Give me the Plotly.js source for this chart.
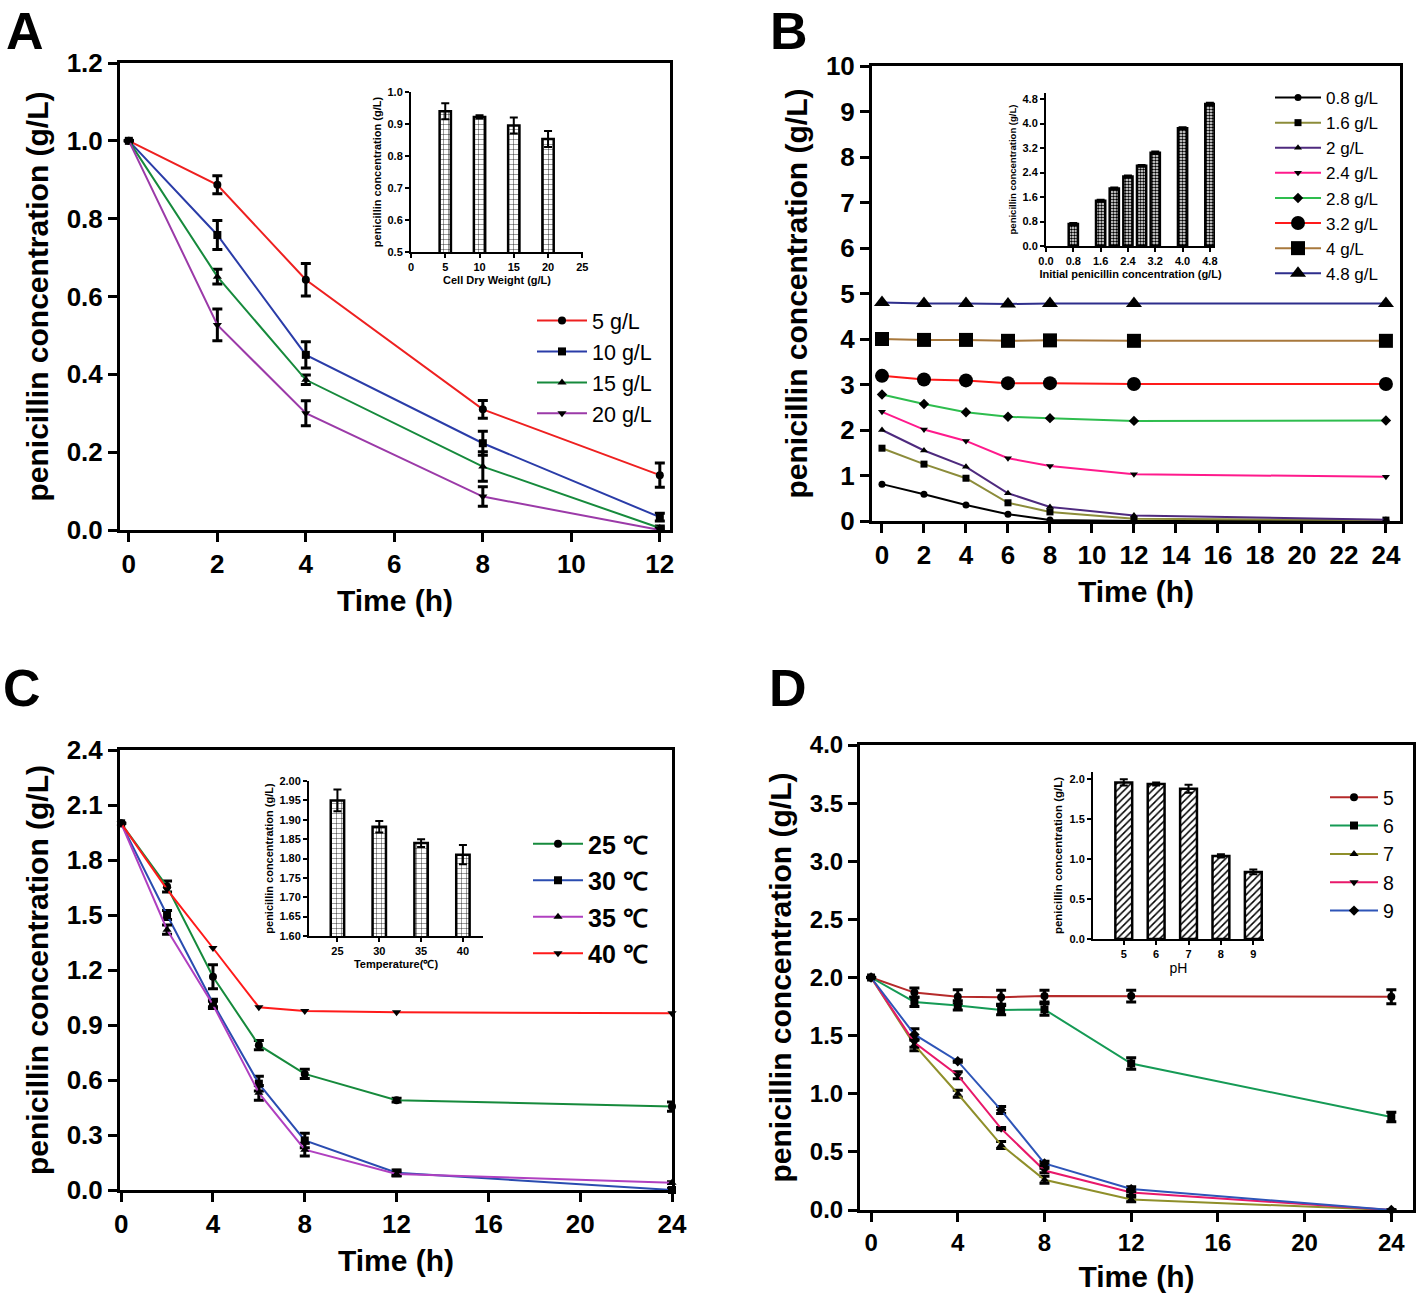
<!DOCTYPE html>
<html><head><meta charset="utf-8">
<script src="https://cdn.plot.ly/plotly-3.0.1.min.js"></script>
<style>html,body{margin:0;padding:0;background:#fff}#chart{width:1418px;height:1298px}</style>
</head><body><div id="chart"></div><script>
// ---------- Panel A ----------
const timeA = [0, 2, 4, 8, 12];
const a_5 = [1.0, 0.887, 0.643, 0.31, 0.141];
const a_5_err = [0, 0.023, 0.042, 0.023, 0.031];
const a_10 = [1.0, 0.758, 0.45, 0.223, 0.033];
const a_10_err = [0, 0.037, 0.034, 0.031, 0.01];
const a_15 = [1.0, 0.651, 0.386, 0.163, 0.005];
const a_15_err = [0, 0.019, 0.012, 0.038, 0.005];
const a_20 = [1.0, 0.527, 0.30, 0.086, 0.0];
const a_20_err = [0, 0.041, 0.032, 0.025, 0.005];
const insetA_x = [5, 10, 15, 20];
const insetA_y = [0.94, 0.922, 0.895, 0.853];
const insetA_err = [0.025, 0.005, 0.025, 0.025];

// ---------- Panel B ----------
const timeB = [0, 2, 4, 6, 8, 12, 24];
const b_08 = [0.81, 0.59, 0.35, 0.15, 0.02, 0.0, 0.0];
const b_16 = [1.6, 1.25, 0.94, 0.40, 0.20, 0.05, 0.02];
const b_2 = [2.0, 1.55, 1.19, 0.61, 0.31, 0.12, 0.03];
const b_24 = [2.40, 2.01, 1.76, 1.38, 1.21, 1.03, 0.97];
const b_28 = [2.78, 2.57, 2.39, 2.29, 2.26, 2.20, 2.21];
const b_32 = [3.19, 3.11, 3.09, 3.03, 3.03, 3.01, 3.01];
const b_4 = [4.0, 3.98, 3.98, 3.96, 3.97, 3.96, 3.96];
const b_48 = [4.80, 4.78, 4.78, 4.77, 4.78, 4.78, 4.78];
const insetB_x = [0.8, 1.6, 2.0, 2.4, 2.8, 3.2, 4.0, 4.8];
const insetB_y = [0.72, 1.48, 1.88, 2.27, 2.62, 3.05, 3.85, 4.64];
const insetB_err = [0.03, 0.03, 0.03, 0.03, 0.03, 0.04, 0.03, 0.04];

// ---------- Panel C ----------
const timeC = [0, 2, 4, 6, 8, 12, 24];
const c_25 = [2.0, 1.655, 1.163, 0.79, 0.633, 0.49, 0.455];
const c_25_err = [0, 0.03, 0.065, 0.025, 0.025, 0.01, 0.025];
const c_30 = [2.0, 1.50, 1.02, 0.58, 0.27, 0.094, 0.0];
const c_30_err = [0, 0.025, 0.02, 0.04, 0.04, 0.015, 0.01];
const c_35 = [2.0, 1.42, 1.01, 0.53, 0.22, 0.087, 0.04];
const c_35_err = [0, 0.025, 0.02, 0.04, 0.035, 0.01, 0.005];
const c_40 = [2.0, 1.64, 1.32, 0.997, 0.976, 0.969, 0.964];
const insetC_x = [25, 30, 35, 40];
const insetC_y = [1.95, 1.882, 1.84, 1.81];
const insetC_err = [0.028, 0.015, 0.01, 0.025];

// ---------- Panel D ----------
const timeD = [0, 2, 4, 6, 8, 12, 24];
const d_5 = [2.0, 1.87, 1.835, 1.83, 1.84, 1.84, 1.835];
const d_5_err = [0, 0.04, 0.06, 0.06, 0.05, 0.05, 0.06];
const d_6 = [2.0, 1.79, 1.76, 1.72, 1.725, 1.26, 0.80];
const d_6_err = [0, 0.04, 0.04, 0.04, 0.05, 0.05, 0.04];
const d_7 = [2.0, 1.42, 1.0, 0.56, 0.26, 0.09, 0.0];
const d_7_err = [0, 0.05, 0.03, 0.03, 0.03, 0.02, 0.0];
const d_8 = [2.0, 1.44, 1.16, 0.70, 0.34, 0.15, 0.0];
const d_8_err = [0, 0.04, 0.03, 0.01, 0.02, 0.02, 0.0];
const d_9 = [2.0, 1.51, 1.28, 0.86, 0.40, 0.18, 0.0];
const d_9_err = [0, 0.05, 0.01, 0.03, 0.02, 0.02, 0.0];
const insetD_x = [5, 6, 7, 8, 9];
const insetD_y = [1.96, 1.94, 1.88, 1.04, 0.84];
const insetD_err = [0.04, 0.02, 0.05, 0.02, 0.03];

const FONT = 'Liberation Sans, Arial, sans-serif';
const W = 1418, H = 1298;
const px = v => v / W;
const py = v => 1 - v / H;

function errBar(arr, th, w) {
  return {type: 'data', array: arr, color: 'black', thickness: th || 3, width: w || 5, visible: true};
}
function line(x, y, name, color, symbol, size, xa, ya, lg, err) {
  const t = {type: 'scatter', mode: 'lines+markers', x: x, y: y, name: name,
    line: {color: color, width: 2}, marker: {symbol: symbol, size: size, color: 'black'},
    xaxis: xa, yaxis: ya, legend: lg, cliponaxis: false};
  if (err) t.error_y = errBar(err);
  return t;
}
function bars(x, y, err, width, shape, psize, solidity, xa, ya) {
  return {type: 'bar', x: x, y: y, width: width, xaxis: xa, yaxis: ya, showlegend: false,
    marker: {color: 'white', line: {color: 'black', width: 2.5},
      pattern: {shape: shape, size: psize, solidity: solidity, fgcolor: 'black', bgcolor: 'white'}},
    error_y: errBar(err, 2, 4)};
}

const traces = [
  line(timeA, a_5, '5 g/L', '#ee2020', 'circle', 8, 'x', 'y', 'legend', a_5_err),
  line(timeA, a_10, '10 g/L', '#2a3ca8', 'square', 8, 'x', 'y', 'legend', a_10_err),
  line(timeA, a_15, '15 g/L', '#168a3c', 'triangle-up', 8, 'x', 'y', 'legend', a_15_err),
  line(timeA, a_20, '20 g/L', '#9b3aa8', 'triangle-down', 8, 'x', 'y', 'legend', a_20_err),
  bars(insetA_x, insetA_y, insetA_err, 1.65, '+', 5, 0.15, 'x2', 'y2'),

  line(timeB, b_08, '0.8 g/L', '#000000', 'circle', 7, 'x3', 'y3', 'legend2'),
  line(timeB, b_16, '1.6 g/L', '#8c8c3a', 'square', 7, 'x3', 'y3', 'legend2'),
  line(timeB, b_2, '2 g/L', '#4e2a7e', 'triangle-up', 7, 'x3', 'y3', 'legend2'),
  line(timeB, b_24, '2.4 g/L', '#ff1a8c', 'triangle-down', 7, 'x3', 'y3', 'legend2'),
  line(timeB, b_28, '2.8 g/L', '#2ebd4e', 'diamond', 8, 'x3', 'y3', 'legend2'),
  line(timeB, b_32, '3.2 g/L', '#ff1a1a', 'circle', 14, 'x3', 'y3', 'legend2'),
  line(timeB, b_4, '4 g/L', '#a8783c', 'square', 14, 'x3', 'y3', 'legend2'),
  line(timeB, b_48, '4.8 g/L', '#2e2e8c', 'triangle-up', 14, 'x3', 'y3', 'legend2'),
  bars(insetB_x, insetB_y, insetB_err, 0.27, '.', 3, 0.55, 'x4', 'y4'),

  line(timeC, c_25, '25 ℃', '#168a3c', 'circle', 8, 'x5', 'y5', 'legend3', c_25_err),
  line(timeC, c_30, '30 ℃', '#2a4cb0', 'square', 8, 'x5', 'y5', 'legend3', c_30_err),
  line(timeC, c_35, '35 ℃', '#b040c0', 'triangle-up', 8, 'x5', 'y5', 'legend3', c_35_err),
  line(timeC, c_40, '40 ℃', '#ff1a1a', 'triangle-down', 8, 'x5', 'y5', 'legend3'),
  bars(insetC_x, insetC_y, insetC_err, 1.6, '+', 5, 0.15, 'x6', 'y6'),

  line(timeD, d_5, '5', '#b52a2a', 'circle', 8, 'x7', 'y7', 'legend4', d_5_err),
  line(timeD, d_6, '6', '#159a55', 'square', 8, 'x7', 'y7', 'legend4', d_6_err),
  line(timeD, d_7, '7', '#8f8f2a', 'triangle-up', 8, 'x7', 'y7', 'legend4', d_7_err),
  line(timeD, d_8, '8', '#e8186a', 'triangle-down', 8, 'x7', 'y7', 'legend4', d_8_err),
  line(timeD, d_9, '9', '#2e55b8', 'diamond', 8, 'x7', 'y7', 'legend4', d_9_err),
  bars(insetD_x, insetD_y, insetD_err, 0.52, '/', 5, 0.3, 'x8', 'y8')
];
// give C legend entries their own groups for wider row spacing
traces.forEach(t => { if (t.legend === 'legend3') t.legendgroup = t.name; });

const tickF = {family: FONT, size: 26, color: 'black', weight: 'bold'};
const tickFD = {family: FONT, size: 24, color: 'black', weight: 'bold'};
const titleF = {family: FONT, size: 30, color: 'black', weight: 'bold'};

function mainX(d0, d1, range, tickvals, anchor, tf) {
  return {domain: [px(d0), px(d1)], range: range, tickvals: tickvals, anchor: anchor,
    ticks: 'outside', ticklen: 9, tickwidth: 3, tickcolor: 'black', linewidth: 3, linecolor: 'black',
    mirror: true, showgrid: false, zeroline: false, tickfont: tf || tickF, automargin: false, fixedrange: true,
    title: {text: 'Time (h)', font: titleF, standoff: 12}};
}
function mainY(d0, d1, range, tickvals, fmt, anchor, tf) {
  return {domain: [py(d1), py(d0)], range: range, tickvals: tickvals, tickformat: fmt, anchor: anchor,
    ticks: 'outside', ticklen: 9, tickwidth: 3, tickcolor: 'black', linewidth: 3, linecolor: 'black',
    mirror: true, showgrid: false, zeroline: false, tickfont: tf || tickF, automargin: false, fixedrange: true,
    title: {text: 'penicillin concentration (g/L)', font: titleF, standoff: 10}};
}
const inTick = {family: FONT, size: 11, color: 'black', weight: 'bold'};
const inTitle = {family: FONT, size: 11, color: 'black', weight: 'bold'};
function inX(d0, d1, range, tickvals, fmt, title, anchor, tfont) {
  return {domain: [px(d0), px(d1)], range: range, tickvals: tickvals, tickformat: fmt, anchor: anchor,
    ticks: 'outside', ticklen: 4, tickwidth: 2, tickcolor: 'black', linewidth: 2, linecolor: 'black',
    showgrid: false, zeroline: false, tickfont: inTick, automargin: false, fixedrange: true,
    title: {text: title, font: tfont || inTitle, standoff: 4}};
}
function inY(d0, d1, range, tickvals, fmt, anchor, tsize) {
  return {domain: [py(d1), py(d0)], range: range, tickvals: tickvals, tickformat: fmt, anchor: anchor,
    ticks: 'outside', ticklen: 4, tickwidth: 2, tickcolor: 'black', linewidth: 2, linecolor: 'black',
    showgrid: false, zeroline: false, tickfont: inTick, automargin: false, fixedrange: true,
    title: {text: 'penicillin concentration (g/L)', font: {family: FONT, size: tsize || 10.5, color: 'black', weight: 'bold'}, standoff: 4}};
}

const letterF = {family: FONT, size: 52, color: 'black', weight: 'bold'};
function letter(t, x, y) {
  return {text: t, x: px(x), y: py(y), xref: 'paper', yref: 'paper', showarrow: false,
    xanchor: 'center', yanchor: 'middle', font: letterF};
}
function leg(x, y, size, bold, iw, gap) {
  return {x: px(x), y: py(y), xanchor: 'left', yanchor: 'top', bgcolor: 'rgba(0,0,0,0)',
    borderwidth: 0, font: {family: FONT, size: size, color: 'black', weight: bold ? 'bold' : 'normal'},
    itemwidth: iw, tracegroupgap: gap || 0};
}

const layout = {
  width: W, height: H, margin: {l: 0, r: 0, t: 0, b: 0},
  paper_bgcolor: 'white', plot_bgcolor: 'rgba(0,0,0,0)',
  font: {family: FONT, color: 'black'},
  showlegend: true,
  bargap: 0,
  xaxis: mainX(120, 670, [-0.2, 12.23], [0, 2, 4, 6, 8, 10, 12], 'y'),
  yaxis: mainY(63, 530, [0, 1.2], [0, 0.2, 0.4, 0.6, 0.8, 1.0, 1.2], '.1f', 'x'),
  xaxis2: inX(411, 583, [0, 25.1], [0, 5, 10, 15, 20, 25], '', 'Cell Dry Weight (g/L)', 'y2'),
  yaxis2: inY(92, 252, [0.5, 1.0], [0.5, 0.6, 0.7, 0.8, 0.9, 1.0], '.1f', 'x2', 11),

  xaxis3: mainX(872, 1400, [-0.476, 24.67], [0, 2, 4, 6, 8, 10, 12, 14, 16, 18, 20, 22, 24], 'y3'),
  yaxis3: mainY(66, 521, [0, 10], [0, 1, 2, 3, 4, 5, 6, 7, 8, 9, 10], '', 'x3'),
  xaxis4: inX(1046, 1215, [0, 4.95], [0, 0.8, 1.6, 2.4, 3.2, 4.0, 4.8], '.1f', 'Initial penicillin concentration (g/L)', 'y4'),
  yaxis4: inY(93, 246, [0, 5.0], [0, 0.8, 1.6, 2.4, 3.2, 4.0, 4.8], '.1f', 'x4', 9.5),

  xaxis5: mainX(120, 672, [-0.05, 24.0], [0, 4, 8, 12, 16, 20, 24], 'y5'),
  yaxis5: mainY(750, 1190, [0, 2.4], [0, 0.3, 0.6, 0.9, 1.2, 1.5, 1.8, 2.1, 2.4], '.1f', 'x5'),
  xaxis6: inX(309, 483, [21.6, 42.4], [25, 30, 35, 40], '', 'Temperature(℃)', 'y6'),
  yaxis6: inY(781, 936, [1.6, 2.0], [1.6, 1.65, 1.7, 1.75, 1.8, 1.85, 1.9, 1.95, 2.0], '.2f', 'x6', 11),

  xaxis7: mainX(860, 1413, [-0.51, 25.0], [0, 4, 8, 12, 16, 20, 24], 'y7', tickFD),
  yaxis7: mainY(745, 1210, [0, 4.0], [0, 0.5, 1.0, 1.5, 2.0, 2.5, 3.0, 3.5, 4.0], '.1f', 'x7', tickFD),
  xaxis8: inX(1093, 1264, [4.05, 9.33], [5, 6, 7, 8, 9], '', 'pH', 'y8', {family: FONT, size: 14, color: 'black'}),
  yaxis8: inY(772, 939, [0, 2.09], [0, 0.5, 1.0, 1.5, 2.0], '.1f', 'x8', 11.5),

  legend: leg(532, 300, 21.5, false, 50, 0),
  legend2: leg(1270, 80, 17, false, 46, 0),
  legend3: leg(528, 821, 25, true, 50, 1),
  legend4: leg(1325, 778, 19.5, false, 48, 0),

  annotations: [letter('A', 25, 31), letter('B', 789, 31), letter('C', 22, 688), letter('D', 788, 688)]
};

Plotly.newPlot('chart', traces, layout, {displayModeBar: false, staticPlot: true});
</script></body></html>
